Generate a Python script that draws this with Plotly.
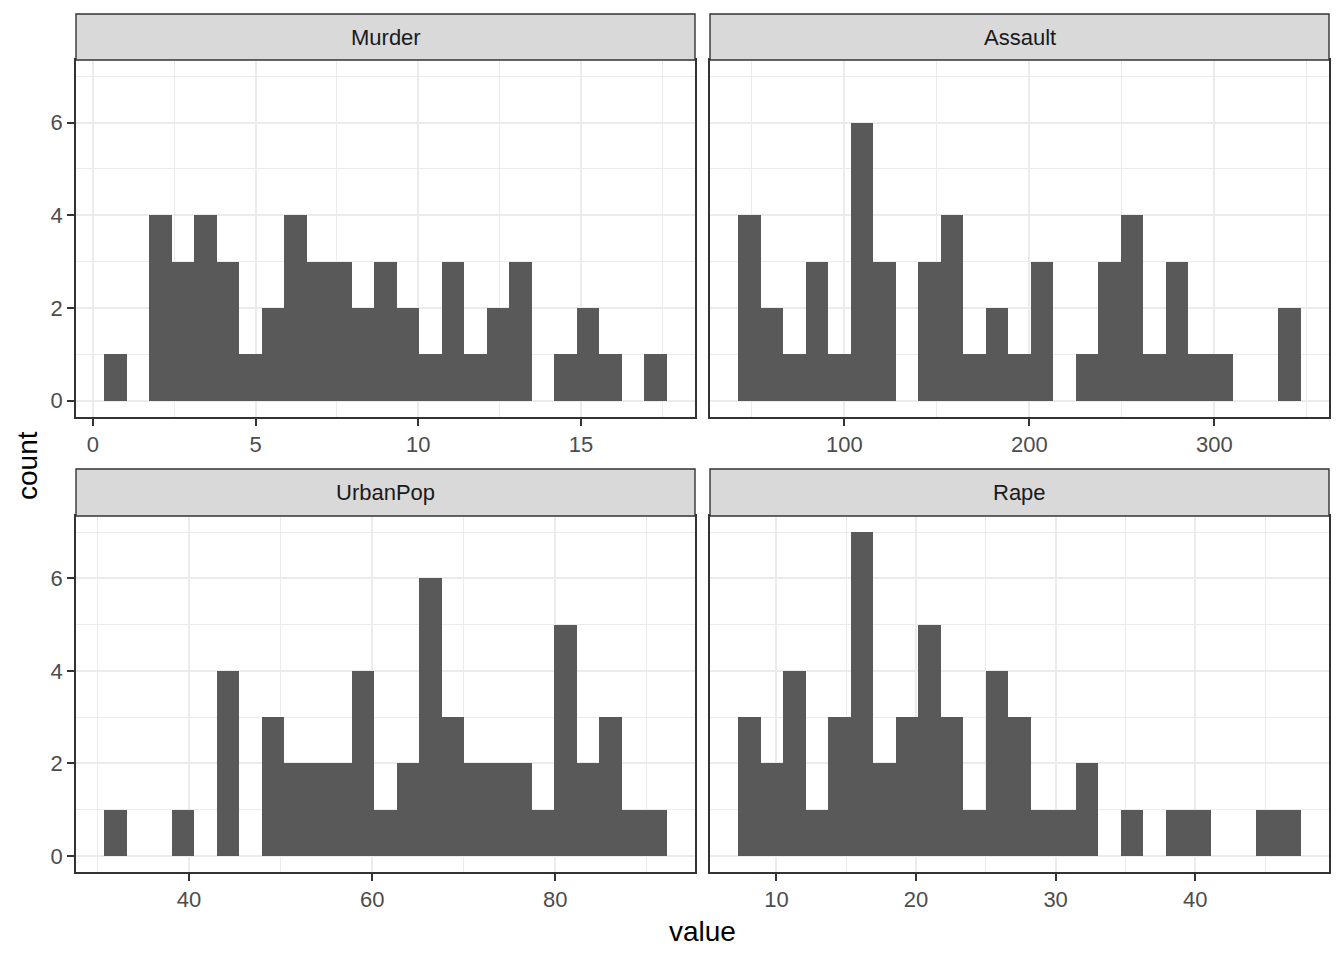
import math
import plotly.graph_objects as go

W, H = 1344, 960

# ---- data (histogram counts, 25 bins each) ----
variables = ["Murder", "Assault", "UrbanPop", "Rape"]
murder_counts = [1, 0, 4, 3, 4, 3, 1, 2, 4, 3, 3, 2, 3, 2, 1, 3, 1, 2, 3, 0, 1, 2, 1, 0, 1]
assault_counts = [4, 2, 1, 3, 1, 6, 3, 0, 3, 4, 1, 2, 1, 3, 0, 1, 3, 4, 1, 3, 1, 1, 0, 0, 2]
urbanpop_counts = [1, 0, 0, 1, 0, 4, 0, 3, 2, 2, 2, 4, 1, 2, 6, 3, 2, 2, 2, 1, 5, 2, 3, 1, 1]
rape_counts = [3, 2, 4, 1, 3, 7, 2, 3, 5, 3, 1, 4, 3, 1, 1, 2, 0, 1, 0, 1, 1, 0, 0, 1, 1]
# data min / max per variable (used for ggplot2-style bin breaks)
murder_range = [0.8, 17.4]
assault_range = [45, 337]
urbanpop_range = [32, 91]
rape_range = [7.3, 46.0]
murder_ticks = [0, 5, 10, 15]
assault_ticks = [100, 200, 300]
urbanpop_ticks = [40, 60, 80]
rape_ticks = [10, 20, 30, 40]
count_ticks = [0, 2, 4, 6]

panels = [
    ("Murder", murder_counts, murder_range, murder_ticks),
    ("Assault", assault_counts, assault_range, assault_ticks),
    ("UrbanPop", urbanpop_counts, urbanpop_range, urbanpop_ticks),
    ("Rape", rape_counts, rape_range, rape_ticks),
]

# ---- layout geometry (pixels) ----
cols = [(76, 695), (710, 1329)]
rows = [(14, 60, 417), (469, 516, 872)]  # strip top, panel top, panel bottom

fig = go.Figure()
BAR = "#595959"
BORDER = "#333333"
GRID = "#EBEBEB"
TICKC = "#4D4D4D"
FONT = "Liberation Sans, Arial, sans-serif"

ymax = max(max(c) for _, c, _, _ in panels)
ypad = ymax * 0.05

shapes = []
annotations = []
for i, (name, counts, rng, ticks) in enumerate(panels):
    r, c = divmod(i, 2)
    x0, x1 = cols[c]
    st, pt, pb = rows[r]
    nb = len(counts)
    # ggplot2 bin breaks: width = range/(bins-1), boundary = width/2
    w = (rng[1] - rng[0]) / (nb - 1)
    boundary = w / 2
    origin = boundary + math.floor((rng[0] - boundary) / w) * w
    centers = [origin + (k + 0.5) * w for k in range(nb)]
    lo, hi = origin, origin + nb * w
    pad = (hi - lo) * 0.05
    sfx = "" if i == 0 else str(i + 1)
    fig.add_trace(go.Bar(
        x=centers, y=counts, width=[w] * nb,
        marker=dict(color=BAR, line=dict(width=0)),
        xaxis="x" + sfx, yaxis="y" + sfx, showlegend=False,
        hovertemplate="%{x}: %{y}<extra></extra>",
    ))
    step = ticks[1] - ticks[0]
    fig.layout["xaxis" + sfx] = dict(
        domain=[x0 / W, x1 / W], anchor="y" + sfx,
        range=[lo - pad, hi + pad], tickvals=ticks,
        showgrid=True, gridcolor=GRID, gridwidth=1.6, zeroline=False,
        minor=dict(dtick=step / 2, tick0=0, showgrid=True, gridcolor=GRID, gridwidth=0.8),
        showline=True, mirror=True, linecolor=BORDER, linewidth=1.6,
        ticks="outside", ticklen=7, tickwidth=1.6, tickcolor=BORDER,
        tickfont=dict(family=FONT, size=22, color=TICKC),
        automargin=False, fixedrange=True,
    )
    fig.layout["yaxis" + sfx] = dict(
        domain=[1 - pb / H, 1 - pt / H], anchor="x" + sfx,
        range=[-ypad, ymax + ypad], tickvals=count_ticks,
        showgrid=True, gridcolor=GRID, gridwidth=1.6, zeroline=False,
        minor=dict(dtick=1, tick0=0, showgrid=True, gridcolor=GRID, gridwidth=0.8),
        showline=True, mirror=True, linecolor=BORDER, linewidth=1.6,
        ticks="outside" if c == 0 else "", ticklen=7, tickwidth=1.6, tickcolor=BORDER,
        showticklabels=(c == 0),
        tickfont=dict(family=FONT, size=22, color=TICKC),
        automargin=False, fixedrange=True,
    )
    shapes.append(dict(type="rect", xref="paper", yref="paper",
                       x0=x0 / W, x1=x1 / W, y0=1 - pt / H, y1=1 - st / H,
                       fillcolor="#D9D9D9", line=dict(color=BORDER, width=1.4), layer="above"))
    annotations.append(dict(text=name, xref="paper", yref="paper",
                            x=(x0 + x1) / 2 / W, y=1 - (st + pt) / 2 / H,
                            showarrow=False, xanchor="center", yanchor="middle",
                            font=dict(family=FONT, size=22, color="#1A1A1A")))

annotations.append(dict(text="count", xref="paper", yref="paper",
                        x=28 / W, y=1 - 466 / H, textangle=-90, showarrow=False,
                        xanchor="center", yanchor="middle",
                        font=dict(family=FONT, size=28, color="black")))
annotations.append(dict(text="value", xref="paper", yref="paper",
                        x=702 / W, y=1 - 931 / H, showarrow=False,
                        xanchor="center", yanchor="middle",
                        font=dict(family=FONT, size=28, color="black")))

fig.update_layout(
    width=W, height=H,
    margin=dict(l=0, r=0, t=0, b=0),
    paper_bgcolor="white", plot_bgcolor="white",
    bargap=0, shapes=shapes, annotations=annotations,
    showlegend=False,
)

fig.write_html("out.html", config={"displayModeBar": False},
               post_script="document.body.style.margin='0';document.body.style.overflow='hidden';")
